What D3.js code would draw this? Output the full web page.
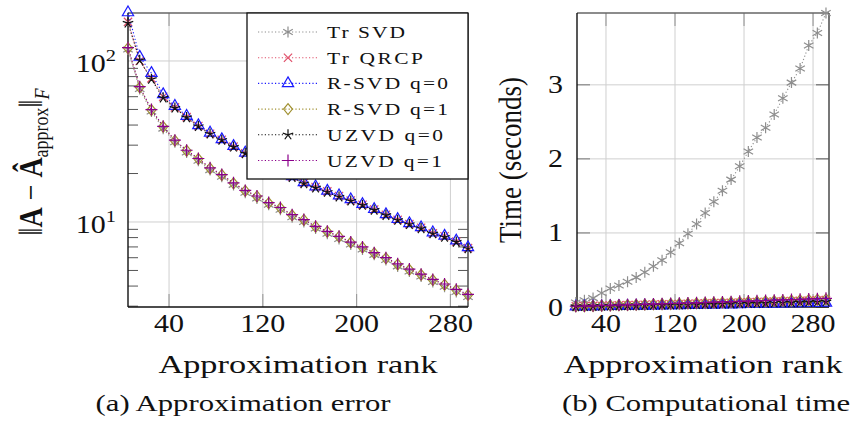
<!DOCTYPE html>
<html><head><meta charset="utf-8">
<script src="https://cdn.jsdelivr.net/npm/d3@7"></script>
<style>body{margin:0;background:#fff}svg{display:block}</style>
</head><body>
<script>
// Approximation rank k for every run
const ranks = [5,15,25,35,45,55,65,75,85,95,105,115,125,135,145,155,165,175,185,195,205,215,225,235,245,255,265,275,285,295];

// ||A - A_approx||_F for each method
const errTrSVD  = [118,67,48.5,38,31.3,27.0,24.0,21.0,19.1,17.0,15.2,14.0,12.8,11.9,10.7,10.0,9.1,8.45,7.85,7.25,6.75,6.25,5.8,5.3,4.92,4.58,4.24,3.96,3.67,3.42];
const errTrQRCP = [175,100,78,60,51.5,44.8,39.5,35.3,32.4,29.4,26.7,24.6,22.6,20.8,19.1,17.5,16.5,15.5,14.5,13.6,12.8,11.95,11.1,10.3,9.7,9.2,8.5,8.15,7.55,6.88];
const errRSVD0  = [200,106,84,62,52.5,45.5,39.8,35.8,32.6,29.6,26.9,24.7,22.7,20.9,19.2,17.6,16.6,15.6,14.6,13.8,12.9,12.0,11.15,10.4,9.8,9.25,8.6,8.2,7.65,6.95];
const errRSVD1  = [120,68.7,49.6,39,32,27.7,24.6,21.5,19.6,17.4,15.6,14.4,13.1,12.2,11.0,10.3,9.35,8.7,8.1,7.45,6.95,6.4,5.95,5.45,5.05,4.7,4.36,4.08,3.78,3.52];
const errUZVD0  = [172,101,77,59,51,44.5,39.2,35.2,32.2,29.2,26.6,24.4,22.4,20.6,18.9,17.3,16.3,15.3,14.3,13.5,12.7,11.85,11.0,10.25,9.65,9.1,8.45,8.05,7.5,6.82];
const errUZVD1  = [121,69.2,49.9,39.3,32.2,27.9,24.8,21.7,19.7,17.5,15.7,14.5,13.2,12.3,11.1,10.35,9.4,8.75,8.15,7.5,7.0,6.45,6.0,5.5,5.1,4.74,4.4,4.12,3.82,3.55];

// Run time in seconds for each method
const timeTrSVD  = [0.06,0.09,0.12,0.19,0.25,0.29,0.34,0.40,0.47,0.55,0.63,0.74,0.86,0.99,1.12,1.27,1.42,1.57,1.72,1.90,2.10,2.29,2.42,2.60,2.82,3.03,3.22,3.53,3.70,3.97];
const timeTrQRCP = [0.010,0.012,0.015,0.017,0.020,0.022,0.025,0.027,0.030,0.033,0.035,0.038,0.040,0.043,0.046,0.049,0.052,0.055,0.058,0.061,0.064,0.067,0.070,0.073,0.076,0.080,0.083,0.086,0.090,0.094];
const timeRSVD0  = [0.004,0.006,0.007,0.009,0.010,0.012,0.013,0.015,0.016,0.018,0.019,0.021,0.023,0.024,0.026,0.028,0.030,0.031,0.033,0.035,0.037,0.039,0.041,0.043,0.045,0.047,0.049,0.051,0.053,0.055];
const timeRSVD1  = [0.008,0.011,0.014,0.017,0.020,0.023,0.026,0.029,0.032,0.035,0.038,0.041,0.044,0.047,0.050,0.053,0.057,0.060,0.063,0.066,0.070,0.073,0.077,0.080,0.084,0.087,0.091,0.095,0.099,0.103];
const timeUZVD0  = [0.005,0.007,0.009,0.011,0.013,0.015,0.017,0.019,0.021,0.023,0.025,0.027,0.029,0.031,0.033,0.035,0.038,0.040,0.042,0.044,0.047,0.049,0.052,0.054,0.057,0.059,0.062,0.064,0.067,0.070];
const timeUZVD1  = [0.010,0.013,0.016,0.020,0.023,0.026,0.030,0.033,0.036,0.040,0.043,0.047,0.050,0.054,0.057,0.061,0.065,0.068,0.072,0.076,0.080,0.084,0.088,0.092,0.096,0.100,0.104,0.108,0.112,0.117];

const methodNames = ["Tr SVD","Tr QRCP","R-SVD q=0","R-SVD q=1","UZVD q=0","UZVD q=1"];
const rankTicks = [40,120,200,280];
const errTicks = [10,100];
const errTickExp = ["1","2"];
const timeTicks = [0,1,2,3];

// Method styling
const colors = ["#8e8e8e","#e0506a","#1a1aff","#a09030","#111111","#8b008b"];
const marks  = ["asterisk","x","triangle","diamond","star","plus"];
const legendTextWidth = [78,96,121,121,116,115];

const errData  = [errTrSVD, errTrQRCP, errRSVD0, errRSVD1, errUZVD0, errUZVD1];
const timeData = [timeTrSVD, timeTrQRCP, timeRSVD0, timeRSVD1, timeUZVD0, timeUZVD1];

const FONT = "'Liberation Serif','Times New Roman',serif";
const svg = d3.select("body").append("svg").attr("width",853).attr("height",425);

function markPath(type){
  const r = 5.5;
  switch(type){
    case "asterisk": { const c=0.866*r, s=0.5*r;
      return `M0,${-r}L0,${r}M${-c},${-s}L${c},${s}M${-c},${s}L${c},${-s}`; }
    case "x": { const a=r*0.75; return `M${-a},${-a}L${a},${a}M${-a},${a}L${a},${-a}`; }
    case "triangle": { const t=6.5; return `M0,${-t}L${t*0.866},${t/2}L${-t*0.866},${t/2}Z`; }
    case "diamond": return `M0,${-r}L${r*0.8},0L0,${r}L${-r*0.8},0Z`;
    case "star": { let p=""; for(let k=0;k<5;k++){const a=(-90+72*k)*Math.PI/180; p+=`M0,0L${(r*Math.cos(a)).toFixed(2)},${(r*Math.sin(a)).toFixed(2)}`;} return p; }
    case "plus": { const q=6; return `M${-q},0L${q},0M0,${-q}L0,${q}`; }
  }
}

function txt(g, x, y, str, size, sx, anchor, rot){
  return g.append("text")
    .attr("transform", `translate(${x},${y}) scale(${sx},1)` + (rot ? ` rotate(${rot})` : ""))
    .attr("text-anchor", anchor || "middle")
    .attr("font-family", FONT).attr("font-size", size).attr("fill", "#111")
    .text(str);
}

function drawSeries(g, x, y, data){
  data.forEach((vals, i) => {
    const pts = ranks.map((r, j) => [x(r), y(vals[j])]);
    g.append("path").attr("d", d3.line()(pts)).attr("fill","none")
      .attr("stroke", colors[i]).attr("stroke-width", 1.1).attr("stroke-dasharray", "1.2,2.2");
    g.selectAll(null).data(pts).enter().append("path")
      .attr("transform", d => `translate(${d[0]},${d[1]})`)
      .attr("d", markPath(marks[i])).attr("fill", "none")
      .attr("stroke", colors[i]).attr("stroke-width", 1.2);
  });
}

function frame(g, b){
  g.append("line").attr("x1",b.x0).attr("x2",b.x1).attr("y1",b.y0).attr("y2",b.y0).attr("stroke","#666").attr("stroke-width",1.6);
  g.append("line").attr("x1",b.x1).attr("x2",b.x1).attr("y1",b.y0).attr("y2",b.y1).attr("stroke","#555").attr("stroke-width",1.6);
  g.append("line").attr("x1",b.x0).attr("x2",b.x1).attr("y1",b.y1).attr("y2",b.y1).attr("stroke","#111").attr("stroke-width",1.4);
  g.append("line").attr("x1",b.x0).attr("x2",b.x0).attr("y1",b.y0).attr("y2",b.y1).attr("stroke","#111").attr("stroke-width",1.4);
}

function vTicks(g, b, x){
  rankTicks.forEach(t => {
    const px = x(t);
    g.append("line").attr("x1",px).attr("x2",px).attr("y1",b.y0).attr("y2",b.y1).attr("stroke","#cfcfcf").attr("stroke-width",1);
    g.append("line").attr("x1",px).attr("x2",px).attr("y1",b.y1).attr("y2",b.y1-13).attr("stroke","#999").attr("stroke-width",1.1);
    g.append("line").attr("x1",px).attr("x2",px).attr("y1",b.y0).attr("y2",b.y0+13).attr("stroke","#999").attr("stroke-width",1.1);
  });
}

// ---------- (a) approximation error ----------
const bA = {x0:128, x1:468, y0:13, y1:307};
const xA = d3.scaleLinear([5,295],[bA.x0,bA.x1]);
const yA = d3.scaleLog([2.965,198.6],[bA.y1,bA.y0]);
const gA = svg.append("g");
vTicks(gA, bA, xA);
errTicks.forEach(t => {
  gA.append("line").attr("x1",bA.x0).attr("x2",bA.x1).attr("y1",yA(t)).attr("y2",yA(t)).attr("stroke","#cfcfcf");
});
// minor decade ticks on both vertical sides
const minor = [];
[1,10,100].forEach(d => [2,3,4,5,6,7,8,9].forEach(m => { const v=d*m; if (v>yA.domain()[0] && v<yA.domain()[1]) minor.push(v); }));
minor.forEach(v => {
  gA.append("line").attr("x1",bA.x0).attr("x2",bA.x0+10).attr("y1",yA(v)).attr("y2",yA(v)).attr("stroke","#555");
  gA.append("line").attr("x1",bA.x1).attr("x2",bA.x1-10).attr("y1",yA(v)).attr("y2",yA(v)).attr("stroke","#555");
});
frame(gA, bA);
drawSeries(gA, xA, yA, errData);

rankTicks.forEach(t => txt(gA, xA(t), 332, String(t), 25, 1.2));
errTicks.forEach((t, i) => {
  const el = gA.append("text")
    .attr("transform", `translate(116,${yA(t)+11}) scale(1.2,1)`)
    .attr("text-anchor","end").attr("font-family",FONT).attr("font-size",25).attr("fill","#111");
  el.append("tspan").text("10");
  el.append("tspan").attr("dy",-11).attr("font-size",17).text(errTickExp[i]);
});

// legend
const lg = gA.append("g");
lg.append("rect").attr("x",247).attr("y",13).attr("width",221).attr("height",166)
  .attr("fill","#fff").attr("stroke","#111").attr("stroke-width",1.3);
methodNames.forEach((name, i) => {
  const ly = 32 + i*25.7;
  lg.append("line").attr("x1",258).attr("x2",318).attr("y1",ly).attr("y2",ly)
    .attr("stroke",colors[i]).attr("stroke-width",1.1).attr("stroke-dasharray","1.2,2.2");
  lg.append("path").attr("transform",`translate(288,${ly})`).attr("d",markPath(marks[i]))
    .attr("fill","none").attr("stroke",colors[i]).attr("stroke-width",1.2);
  txt(lg, 327, ly+6, name, 16.5, 1.3, "start")
    .attr("textLength", legendTextWidth[i] / 1.3).attr("lengthAdjust", "spacing");
});

// axis titles
txt(svg, (bA.x0+bA.x1)/2, 373, "Approximation rank", 26, 1.32);
const yl = svg.append("text")
  .attr("transform", `translate(42,162) scale(1.2,1) rotate(-90)`)
  .attr("text-anchor","middle").attr("font-family",FONT).attr("font-size",28).attr("fill","#111");
yl.append("tspan").text("\u2016");
yl.append("tspan").attr("font-weight","bold").text("A");
yl.append("tspan").text(" \u2212 ");
yl.append("tspan").attr("font-weight","bold").text("\u00C2");
yl.append("tspan").attr("font-size",18).attr("dy",5).text("approx");
yl.append("tspan").attr("dy",-5).text("\u2016");
yl.append("tspan").attr("font-size",18).attr("font-style","italic").attr("dy",6).text("F");

// ---------- (b) computational time ----------
const bB = {x0:577, x1:829, y0:13, y1:307};
const xB = d3.scaleLinear([6.4,298.5],[bB.x0,bB.x1]);
const yB = d3.scaleLinear([0,3.97],[bB.y1,bB.y0]);
const gB = svg.append("g");
vTicks(gB, bB, xB);
timeTicks.forEach(t => {
  if (t > 0) gB.append("line").attr("x1",bB.x0).attr("x2",bB.x1).attr("y1",yB(t)).attr("y2",yB(t)).attr("stroke","#cfcfcf");
  gB.append("line").attr("x1",bB.x0).attr("x2",bB.x0+13).attr("y1",yB(t)).attr("y2",yB(t)).attr("stroke","#777");
  gB.append("line").attr("x1",bB.x1).attr("x2",bB.x1-13).attr("y1",yB(t)).attr("y2",yB(t)).attr("stroke","#555");
});
frame(gB, bB);
drawSeries(gB, xB, yB, timeData);

rankTicks.forEach(t => txt(gB, xB(t), 332, String(t), 25, 1.2));
timeTicks.forEach(t => txt(gB, 563, yB(t)+8.5, String(t), 25, 1.2, "end"));

txt(svg, (bB.x0+bB.x1)/2, 373, "Approximation rank", 26, 1.32);
txt(svg, 521, 160, "Time (seconds)", 27, 1.2, "middle", -90);

// sub-figure captions
txt(svg, 243, 411, "(a) Approximation error", 24, 1.28);
txt(svg, 706, 411, "(b) Computational time", 24, 1.28);
</script>
</body></html>
